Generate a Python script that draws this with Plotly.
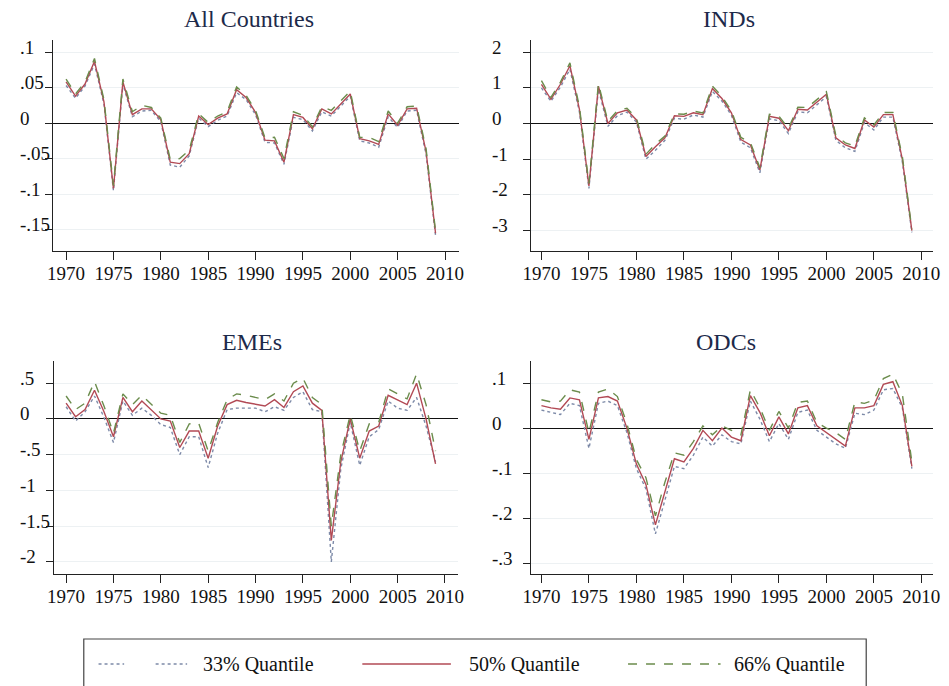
import plotly.graph_objects as go

years = list(range(1970, 2010))

# All Countries
ac33 = [0.053,0.035,0.052,0.083,0.027,-0.095,0.055,0.009,0.017,0.018,0.002,-0.059,-0.062,-0.046,0.007,-0.005,0.004,0.010,0.043,0.033,0.012,-0.027,-0.028,-0.058,0.008,0.005,-0.011,0.016,0.010,0.024,0.038,-0.025,-0.028,-0.034,0.009,-0.006,0.017,0.018,-0.044,-0.158]
ac50 = [0.058,0.038,0.055,0.087,0.030,-0.092,0.058,0.012,0.020,0.020,0.005,-0.055,-0.057,-0.043,0.010,-0.002,0.007,0.013,0.047,0.036,0.015,-0.024,-0.025,-0.055,0.012,0.008,-0.008,0.020,0.013,0.027,0.041,-0.022,-0.025,-0.030,0.013,-0.003,0.020,0.021,-0.040,-0.155]
ac66 = [0.062,0.041,0.058,0.091,0.033,-0.088,0.062,0.016,0.025,0.022,0.007,-0.051,-0.050,-0.038,0.013,0.001,0.010,0.016,0.051,0.039,0.018,-0.021,-0.020,-0.050,0.016,0.011,-0.005,0.023,0.018,0.031,0.045,-0.020,-0.020,-0.026,0.017,0.000,0.023,0.024,-0.036,-0.152]

# INDs
ind33 = [1.00,0.62,1.02,1.52,0.32,-1.82,0.96,-0.08,0.22,0.32,0.04,-1.00,-0.75,-0.47,0.15,0.12,0.24,0.18,0.90,0.63,0.23,-0.52,-0.68,-1.38,0.13,0.08,-0.28,0.33,0.30,0.53,0.75,-0.47,-0.68,-0.78,0.03,-0.18,0.18,0.18,-1.08,-3.05]
ind50 = [1.10,0.68,1.10,1.62,0.40,-1.75,1.05,0.00,0.30,0.38,0.10,-0.92,-0.65,-0.40,0.22,0.20,0.30,0.25,0.98,0.70,0.30,-0.45,-0.60,-1.30,0.20,0.15,-0.20,0.40,0.38,0.60,0.82,-0.40,-0.60,-0.70,0.10,-0.10,0.25,0.25,-1.00,-3.00]
ind66 = [1.20,0.73,1.16,1.70,0.47,-1.68,1.12,0.06,0.36,0.43,0.16,-0.86,-0.58,-0.35,0.27,0.26,0.35,0.30,1.05,0.76,0.36,-0.39,-0.53,-1.24,0.26,0.21,-0.14,0.46,0.45,0.66,0.89,-0.34,-0.54,-0.63,0.16,-0.04,0.31,0.31,-0.93,-2.96]

# EMEs
eme33 = [0.17,-0.03,0.10,0.32,0.02,-0.33,0.25,0.05,0.15,0.05,-0.08,-0.12,-0.50,-0.25,-0.25,-0.68,-0.20,0.13,0.15,0.15,0.15,0.10,0.17,0.12,0.30,0.38,0.13,0.10,-2.00,-0.70,-0.05,-0.65,-0.25,-0.15,0.25,0.15,0.12,0.30,-0.10,-0.60]
eme50 = [0.22,0.03,0.13,0.40,0.10,-0.25,0.30,0.10,0.25,0.12,0.00,-0.03,-0.40,-0.17,-0.17,-0.55,-0.10,0.20,0.26,0.23,0.20,0.18,0.27,0.16,0.38,0.46,0.22,0.12,-1.70,-0.60,0.00,-0.55,-0.17,-0.10,0.33,0.26,0.20,0.50,0.00,-0.63]
eme66 = [0.32,0.13,0.22,0.52,0.18,-0.20,0.35,0.20,0.33,0.20,0.08,0.05,-0.33,-0.07,-0.06,-0.45,-0.05,0.27,0.35,0.33,0.30,0.27,0.35,0.25,0.50,0.57,0.30,0.20,-1.50,-0.50,0.06,-0.45,-0.07,-0.05,0.42,0.35,0.28,0.63,0.20,-0.45]

# ODCs
odc33 = [0.040,0.035,0.030,0.055,0.050,-0.045,0.055,0.060,0.050,-0.010,-0.090,-0.135,-0.235,-0.160,-0.085,-0.090,-0.060,-0.020,-0.040,-0.015,-0.030,-0.035,0.060,0.020,-0.030,0.010,-0.025,0.035,0.040,-0.005,-0.020,-0.035,-0.045,0.033,0.030,0.040,0.085,0.088,0.045,-0.090]
odc50 = [0.050,0.045,0.042,0.067,0.063,-0.025,0.067,0.070,0.060,0.000,-0.080,-0.125,-0.215,-0.140,-0.068,-0.075,-0.045,-0.005,-0.028,0.000,-0.020,-0.028,0.072,0.035,-0.017,0.025,-0.013,0.045,0.050,0.005,-0.010,-0.025,-0.040,0.045,0.045,0.050,0.097,0.103,0.050,-0.085]
odc66 = [0.063,0.058,0.060,0.085,0.080,-0.010,0.080,0.087,0.070,0.010,-0.070,-0.110,-0.195,-0.120,-0.055,-0.060,-0.030,0.005,-0.015,0.005,-0.005,-0.015,0.085,0.045,-0.005,0.037,0.000,0.057,0.060,0.012,0.000,-0.010,-0.025,0.058,0.055,0.062,0.110,0.120,0.075,-0.075]

titles = ["All Countries", "INDs", "EMEs", "ODCs"]
panels = [(ac33, ac50, ac66), (ind33, ind50, ind66), (eme33, eme50, eme66), (odc33, odc50, odc66)]

ytickvals = [
    [0.1, 0.05, 0, -0.05, -0.1, -0.15],
    [2, 1, 0, -1, -2, -3],
    [0.5, 0, -0.5, -1, -1.5, -2],
    [0.1, 0, -0.1, -0.2, -0.3],
]
yticktext = [
    [".1", ".05", "0", "-.05", "-.1", "-.15"],
    ["2", "1", "0", "-1", "-2", "-3"],
    [".5", "0", "-.5", "-1", "-1.5", "-2"],
    [".1", "0", "-.1", "-.2", "-.3"],
]
xtickvals = [1970, 1975, 1980, 1985, 1990, 1995, 2000, 2005, 2010]

yranges = [[-0.18, 0.117], [-3.57, 2.34], [-2.17, 0.81], [-0.324, 0.149]]
xranges = [[1968.65, 2011.45], [1968.86, 2011.24], [1968.75, 2011.35], [1968.86, 2011.24]]

W, H = 949, 686
# pixel boxes: (x0, x1, ytop, ybottom)
boxes = [(46, 458, 40, 251), (531, 940, 40, 251), (47, 457, 361, 574), (531, 940, 361, 574)]
title_pos = [(245, 19), (733, 19), (248, 342), (730, 342)]
ylabel_x = [10, 490, 10, 490]

series_names = ["33% Quantile", "50% Quantile", "66% Quantile"]
colors = ["#7d8aa8", "#b24a55", "#6b8c4c"]
dashes = ["dot", "solid", "dash"]

fig = go.Figure()
serif = "Liberation Serif, Times New Roman, serif"

for i, (ser, box) in enumerate(zip(panels, boxes)):
    xa = "x" if i == 0 else f"x{i+1}"
    ya = "y" if i == 0 else f"y{i+1}"
    for s, name, c, d in zip(ser, series_names, colors, dashes):
        fig.add_trace(go.Scatter(
            x=years, y=s, mode="lines", name=name, showlegend=False,
            line=dict(color=c, width=1.4, dash=d),
            xaxis=xa, yaxis=ya,
        ))
    x0, x1, yt, yb = box
    xkey = "xaxis" if i == 0 else f"xaxis{i+1}"
    ykey = "yaxis" if i == 0 else f"yaxis{i+1}"
    fig.update_layout(**{
        xkey: dict(
            domain=[x0 / W, x1 / W], anchor=ya, range=xranges[i],
            tickvals=xtickvals, ticks="outside", ticklen=8, ticklabelstandoff=-3,
            tickcolor="#222", showline=True, linecolor="#222", linewidth=1.2,
            showgrid=False, zeroline=False,
            tickfont=dict(family=serif, size=19, color="#111"),
        ),
        ykey: dict(
            domain=[1 - yb / H, 1 - yt / H], anchor=xa, range=yranges[i],
            tickvals=ytickvals[i], ticks="outside", ticklen=7,
            showticklabels=False,
            tickcolor="#222", showline=True, linecolor="#222", linewidth=1.2,
            showgrid=True, gridcolor="#edf1f3", gridwidth=1,
            zeroline=True, zerolinecolor="#111", zerolinewidth=1.4,
        ),
    })
    # left-aligned y tick labels, placed on the axis scale
    for v, t in zip(ytickvals[i], yticktext[i]):
        fig.add_annotation(
            text=t, xref="paper", yref=ya, x=ylabel_x[i] / W, y=v,
            showarrow=False, xanchor="left", yanchor="middle", yshift=5,
            font=dict(family=serif, size=19, color="#111"),
        )
    tx, ty = title_pos[i]
    fig.add_annotation(
        text=titles[i], xref="paper", yref="paper",
        x=tx / W, y=1 - ty / H,
        showarrow=False, xanchor="center", yanchor="middle",
        font=dict(family=serif, size=24, color="#1d2a4a"),
    )

# legend box (drawn manually, as in the source figure)
fig.add_shape(type="rect", xref="paper", yref="paper",
              x0=77 / W, x1=872 / W, y0=-0.02, y1=1 - 639 / H,
              line=dict(color="#444", width=1.2), fillcolor="rgba(0,0,0,0)")
leg_y = 1 - 664 / H
legend_lines = [[(92, 118), (150, 182)], [(360, 450)], [(630, 724)]]
legend_text_x = [196, 466, 736]
for segs, tx, name, c, d in zip(legend_lines, legend_text_x, series_names, colors, dashes):
    for lx0, lx1 in segs:
        fig.add_shape(type="line", xref="paper", yref="paper",
                      x0=lx0 / W, x1=lx1 / W, y0=leg_y, y1=leg_y,
                      line=dict(color=c, width=1.3, dash=d))
    fig.add_annotation(text=name, xref="paper", yref="paper", x=tx / W, y=leg_y,
                       showarrow=False, xanchor="left", yanchor="middle",
                       font=dict(family=serif, size=20, color="#111"))

fig.update_layout(
    width=W, height=H, margin=dict(l=0, r=0, t=0, b=0),
    paper_bgcolor="white", plot_bgcolor="white", showlegend=False,
)

fig.write_html(
    "out.html",
    config={"displayModeBar": False},
    post_script="document.body.style.margin='0';document.body.style.overflow='hidden';",
)
